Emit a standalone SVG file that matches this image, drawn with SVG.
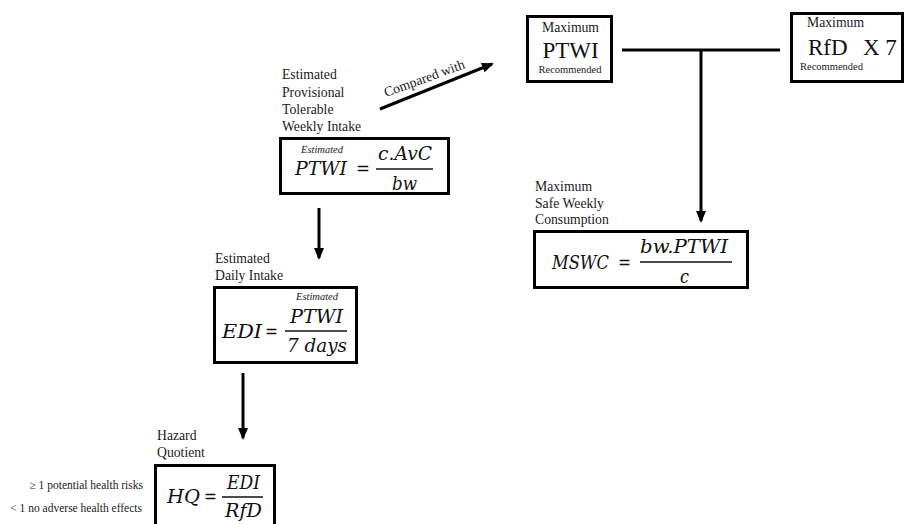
<svg xmlns="http://www.w3.org/2000/svg" width="906" height="524" viewBox="0 0 906 524">
<style>
.bg{fill:#fff}
.box{fill:#fff;stroke:#000;stroke-width:3}
.lbl{font-family:"Liberation Serif","Times New Roman",serif;font-size:13.7px;fill:#1a1a1a}
.sm{font-family:"Liberation Serif","Times New Roman",serif;font-size:10.5px;fill:#1a1a1a}
.est{font-family:"Liberation Serif","Times New Roman",serif;font-size:10.5px;font-style:italic;fill:#1a1a1a}
.mx{font-family:"DejaVu Serif","Liberation Serif",serif;font-size:18px;font-style:italic;fill:#111}
.eq{font-family:"DejaVu Serif","Liberation Serif",serif;font-size:18px;fill:#111}
.big{font-family:"Liberation Serif","Times New Roman",serif;font-size:23px;fill:#111}
.bar{stroke:#111;stroke-width:1.4}
.con{stroke:#000;stroke-width:3;fill:none}
.arr{stroke:#000;stroke-width:3;fill:none;marker-end:url(#ah)}
.side{font-family:"Liberation Serif","Times New Roman",serif;font-size:11.5px;fill:#1a1a1a;text-anchor:end}
</style>
<defs>
<marker id="ah" markerUnits="userSpaceOnUse" viewBox="0 0 12 10" refX="10" refY="5" markerWidth="12" markerHeight="10" orient="auto">
<path d="M0,0 L12,5 L0,10 z" fill="#000"/>
</marker>
</defs>
<rect class="bg" x="0" y="0" width="906" height="524"/>

<g id="connectors">
<line class="arr" x1="380" y1="109" x2="492" y2="64"/>
<text class="lbl" font-size="14" transform="translate(386,97) rotate(-20)">Compared with</text>
<line class="con" x1="622" y1="50" x2="780" y2="50"/>
<line class="arr" x1="701" y1="50" x2="701" y2="221"/>
<line class="arr" x1="319" y1="208" x2="319" y2="258"/>
<line class="arr" x1="243" y1="373" x2="243" y2="438"/>
</g>

<g id="ptwi-estimated">
<text class="lbl" x="282" y="79">Estimated</text>
<text class="lbl" x="282" y="96.5">Provisional</text>
<text class="lbl" x="282" y="114">Tolerable</text>
<text class="lbl" x="282" y="131">Weekly Intake</text>
<rect class="box" x="280.5" y="138.5" width="168" height="55"/>
<text class="est" x="301" y="153" textLength="42" lengthAdjust="spacingAndGlyphs">Estimated</text>
<text class="mx" x="295" y="175" textLength="52" lengthAdjust="spacingAndGlyphs">PTWI</text>
<text class="eq" x="356" y="175" textLength="14" lengthAdjust="spacingAndGlyphs">=</text>
<text class="mx" x="378" y="160" textLength="54" lengthAdjust="spacingAndGlyphs">c.AvC</text>
<line class="bar" x1="376" y1="169" x2="433" y2="169"/>
<text class="mx" x="392" y="190" textLength="25" lengthAdjust="spacingAndGlyphs">bw</text>
</g>

<g id="edi">
<text class="lbl" x="215" y="263">Estimated</text>
<text class="lbl" x="215" y="280">Daily Intake</text>
<rect class="box" x="214.5" y="287.5" width="142" height="75"/>
<text class="est" x="296" y="300" textLength="42" lengthAdjust="spacingAndGlyphs">Estimated</text>
<text class="mx" x="222" y="338" textLength="40" lengthAdjust="spacingAndGlyphs">EDI</text>
<text class="eq" x="265" y="338" textLength="13" lengthAdjust="spacingAndGlyphs">=</text>
<text class="mx" x="290" y="323" textLength="53" lengthAdjust="spacingAndGlyphs">PTWI</text>
<line class="bar" x1="285" y1="331" x2="347" y2="331"/>
<text class="mx" x="287" y="352" textLength="60" lengthAdjust="spacingAndGlyphs">7 days</text>
</g>

<g id="hq">
<text class="lbl" x="157" y="440">Hazard</text>
<text class="lbl" x="157" y="457">Quotient</text>
<rect class="box" x="155.5" y="465.5" width="119" height="75"/>
<text class="mx" x="167" y="503" textLength="33" lengthAdjust="spacingAndGlyphs">HQ</text>
<text class="eq" x="204" y="503" textLength="13" lengthAdjust="spacingAndGlyphs">=</text>
<text class="mx" x="227" y="489" textLength="33" lengthAdjust="spacingAndGlyphs">EDI</text>
<line class="bar" x1="222" y1="497" x2="263" y2="497"/>
<text class="mx" x="225" y="517" textLength="37" lengthAdjust="spacingAndGlyphs">RfD</text>
<text class="side" x="143" y="489">≥ 1 potential health risks</text>
<text class="side" x="142" y="512">&lt; 1 no adverse health effects</text>
</g>

<g id="max-ptwi">
<rect class="box" x="527.5" y="16.5" width="84" height="65"/>
<text class="lbl" font-size="13" x="570.5" y="32" text-anchor="middle">Maximum</text>
<text class="big" x="570.5" y="58" text-anchor="middle">PTWI</text>
<text class="sm" x="570" y="73" text-anchor="middle">Recommended</text>
</g>

<g id="max-rfd">
<rect class="box" x="791.5" y="13.5" width="111" height="68"/>
<text class="lbl" font-size="13" x="807" y="27">Maximum</text>
<text class="big" font-size="22" x="808" y="55">RfD</text>
<text class="big" font-size="22" x="863" y="55">X 7</text>
<text class="sm" x="800" y="70">Recommended</text>
</g>

<g id="mswc">
<text class="lbl" x="535" y="191">Maximum</text>
<text class="lbl" x="535" y="208">Safe Weekly</text>
<text class="lbl" x="535" y="224">Consumption</text>
<rect class="box" x="534.5" y="231.5" width="213" height="56"/>
<text class="mx" x="552" y="269" textLength="57" lengthAdjust="spacingAndGlyphs">MSWC</text>
<text class="eq" x="618" y="269" textLength="13" lengthAdjust="spacingAndGlyphs">=</text>
<text class="mx" x="640" y="253" textLength="88" lengthAdjust="spacingAndGlyphs">bw.PTWI</text>
<line class="bar" x1="640" y1="262" x2="732" y2="262"/>
<text class="mx" x="680" y="283" textLength="9" lengthAdjust="spacingAndGlyphs">c</text>
</g>
</svg>
